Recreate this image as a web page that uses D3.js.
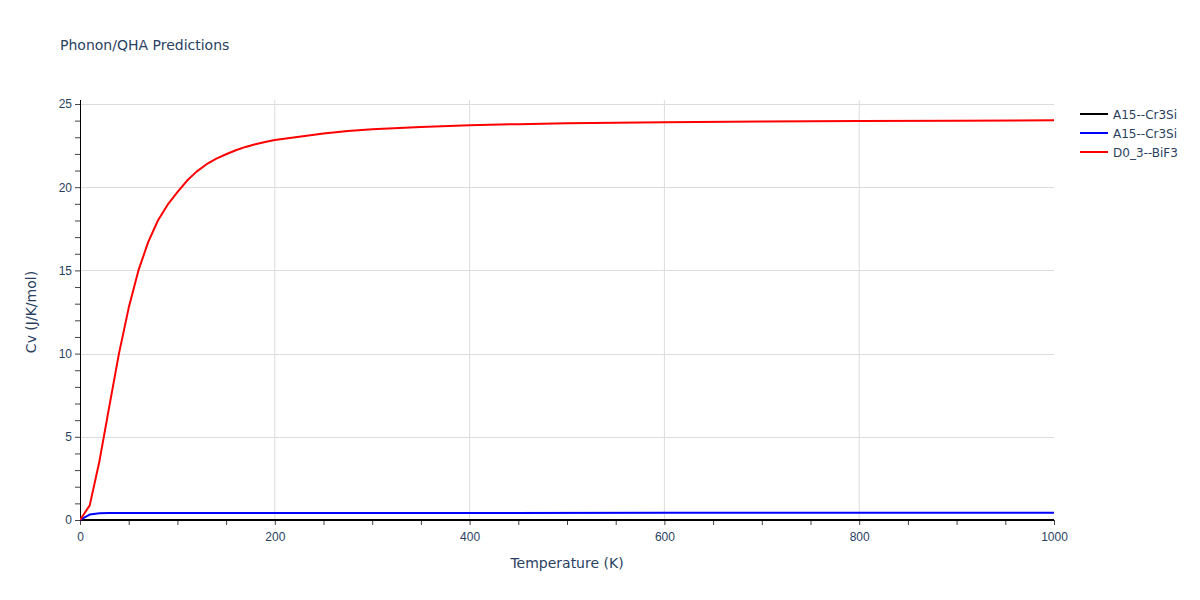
<!DOCTYPE html>
<html>
<head>
<meta charset="utf-8">
<script src="https://cdn.jsdelivr.net/npm/d3@7"></script>
<style>
  body { margin: 0; background: #fff; }
  svg { display: block; font-family: "DejaVu Sans", Verdana, sans-serif; }
</style>
</head>
<body>
<svg id="chart" width="1200" height="600"></svg>
<script>
// ---- data ----
const seriesNames = ["A15--Cr3Si", "A15--Cr3Si", "D0_3--BiF3"];
const seriesColors = ["#000000", "#0000ff", "#ff0000"];

const tempBlack = [0, 100, 200, 300, 400, 500, 600, 700, 800, 900, 1000];
const cvBlack   = [0, 0, 0, 0, 0, 0, 0, 0, 0, 0, 0];

const tempBlue = [0, 10, 20, 30, 50, 100, 200, 400, 600, 800, 1000];
const cvBlue   = [0, 0.33, 0.40, 0.415, 0.42, 0.42, 0.42, 0.425, 0.43, 0.435, 0.44];

const tempRed = [0, 10, 20, 30, 40, 50, 60, 70, 80, 90, 100, 110, 120, 130, 140, 150, 160, 170, 180, 190, 200,
                 225, 250, 275, 300, 350, 400, 450, 500, 600, 700, 800, 900, 1000];
const cvRed   = [0, 0.88, 3.55, 6.8, 10.0, 12.75, 15.0, 16.7, 18.0, 18.95, 19.7, 20.4, 20.95, 21.38, 21.72, 21.98,
                 22.22, 22.42, 22.58, 22.72, 22.84, 23.03, 23.22, 23.37, 23.48, 23.62, 23.72, 23.79, 23.85, 23.91,
                 23.95, 23.98, 24.0, 24.02];

const xMajorTicks = [0, 200, 400, 600, 800, 1000];
const yMajorTicks = [0, 5, 10, 15, 20, 25];
const xMinorStep = 50;
const yMinorStep = 1;

const titleText = "Phonon/QHA Predictions";
const xTitle = "Temperature (K)";
const yTitle = "Cv (J/K/mol)";

// ---- layout ----
const svg = d3.select("#chart");
const margin = { left: 80, right: 146, top: 100, bottom: 80 };
const W = 1200, H = 600;
const x = d3.scaleLinear().domain([0, 1000]).range([margin.left, W - margin.right]);
const y = d3.scaleLinear().domain([0, 25.24]).range([H - margin.bottom, margin.top]);

const textColor = "#2a3f5f";
const gridColor = "#dcdcdc";

// grid
const g = svg.append("g");
g.selectAll(".vgrid").data(xMajorTicks.filter(d => d > 0 && d < 1000)).join("line")
  .attr("x1", d => x(d)).attr("x2", d => x(d))
  .attr("y1", margin.top).attr("y2", H - margin.bottom)
  .attr("stroke", gridColor).attr("stroke-width", 1);
g.selectAll(".hgrid").data(yMajorTicks.filter(d => d > 0)).join("line")
  .attr("x1", margin.left).attr("x2", W - margin.right)
  .attr("y1", d => Math.round(y(d)) + 0.5).attr("y2", d => Math.round(y(d)) + 0.5)
  .attr("stroke", gridColor).attr("stroke-width", 1);

// minor + major ticks via d3 axes
const xTickVals = d3.range(0, 1000 + 1, xMinorStep);
const yTickVals = d3.range(0, 25 + 0.001, yMinorStep);

const xAxis = d3.axisBottom(x).tickValues(xTickVals).tickSize(5)
  .tickFormat(d => xMajorTicks.includes(d) ? d3.format("d")(d) : "");
const yAxis = d3.axisLeft(y).tickValues(yTickVals).tickSize(5)
  .tickFormat(d => yMajorTicks.includes(d) ? d3.format("d")(d) : "");

const gx = svg.append("g").attr("transform", `translate(0,${H - margin.bottom})`).call(xAxis);
gx.select(".domain").remove();
gx.selectAll("line").attr("stroke", "#444");
gx.selectAll("text").attr("fill", textColor).attr("font-size", 12).attr("dy", "1.05em");

const gy = svg.append("g").attr("transform", `translate(${margin.left},0)`).call(yAxis);
gy.select(".domain").remove();
gy.selectAll("line").attr("stroke", "#444");
gy.selectAll("text").attr("fill", textColor).attr("font-size", 12).attr("dx", "0em");

// axis lines
svg.append("line").attr("x1", margin.left + 0.5).attr("x2", margin.left + 0.5)
  .attr("y1", margin.top).attr("y2", H - margin.bottom + 1).attr("stroke", "#000").attr("stroke-width", 1);
svg.append("line").attr("x1", margin.left).attr("x2", W - margin.right)
  .attr("y1", H - margin.bottom + 0.5).attr("y2", H - margin.bottom + 0.5).attr("stroke", "#000").attr("stroke-width", 1);

// series
const line = d3.line().x(d => x(d[0])).y(d => y(d[1]));
const series = [
  d3.zip(tempBlack, cvBlack),
  d3.zip(tempBlue, cvBlue),
  d3.zip(tempRed, cvRed)
];
svg.append("clipPath").attr("id", "clip").append("rect")
  .attr("x", margin.left).attr("y", margin.top - 2)
  .attr("width", W - margin.left - margin.right).attr("height", H - margin.top - margin.bottom + 4);
svg.append("g").attr("clip-path", "url(#clip)")
  .selectAll("path").data(series).join("path")
  .attr("d", line).attr("fill", "none")
  .attr("stroke", (d, i) => seriesColors[i]).attr("stroke-width", 2)
  .attr("stroke-linejoin", "round");

// title
svg.append("text").attr("x", 60).attr("y", 50).attr("fill", textColor)
  .attr("font-size", 14).text(titleText);

// axis titles
svg.append("text").attr("x", x(500)).attr("y", 568).attr("text-anchor", "middle")
  .attr("fill", textColor).attr("font-size", 14).text(xTitle);
svg.append("text").attr("transform", `translate(36,${y(12.5)})rotate(-90)`)
  .attr("text-anchor", "middle").attr("fill", textColor).attr("font-size", 14).text(yTitle);

// legend
const leg = svg.append("g").attr("transform", "translate(1080,114)");
seriesNames.forEach((name, i) => {
  const row = leg.append("g").attr("transform", `translate(0,${i * 19})`);
  row.append("line").attr("x1", 0).attr("x2", 28).attr("y1", 0).attr("y2", 0)
    .attr("stroke", seriesColors[i]).attr("stroke-width", 2);
  row.append("text").attr("x", 33).attr("y", 4.5).attr("fill", textColor)
    .attr("font-size", 12).text(name);
});
</script>
</body>
</html>
